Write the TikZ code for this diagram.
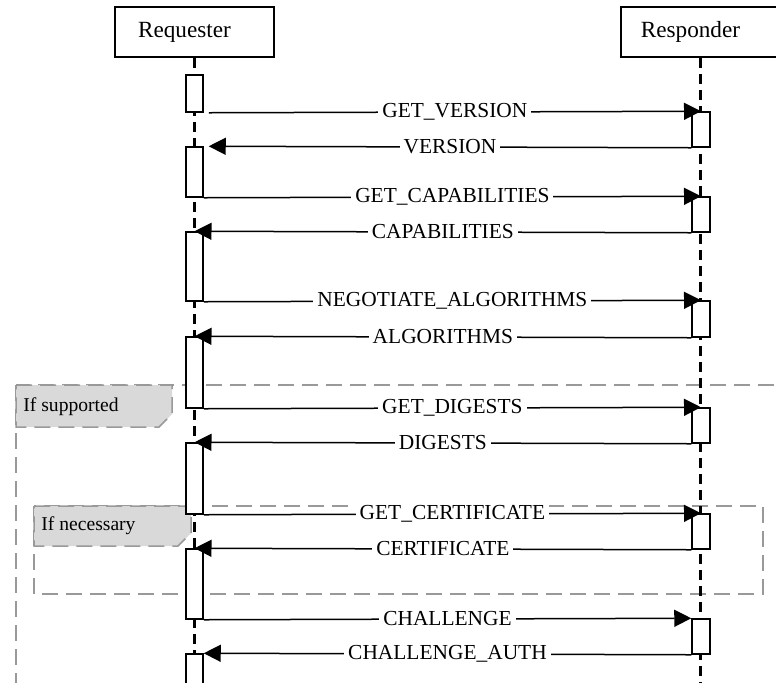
\documentclass[tikz,border=0pt]{standalone}
\usepackage{fontspec}
\setmainfont{Liberation Serif}
\usetikzlibrary{arrows.meta,fit}
\definecolor{gristrait}{rgb}{0.6,0.6,0.6}
\definecolor{grispale}{rgb}{0.85,0.85,0.85}
\newcommand{\msgfont}{\fontsize{10.7}{12}\selectfont}

\begin{document}
\begin{tikzpicture}[x=0.5pt, y=-0.5pt]
		% STYLES
		\tikzstyle{actor} = [draw, line width=1.3pt, minimum width=79.5pt, minimum height=25pt, inner sep=0pt, font=\fontsize{11.6}{13}\selectfont]
		\tikzstyle{lifeline} = [line width=1.5pt, dash pattern=on 5pt off 3pt]
		\tikzstyle{actbox} = [draw, fill=white, line width=0.75pt, inner sep=0pt]
		\tikzstyle{msg} = [line width=0.75pt, -{Triangle[length=8.5pt, width=8.5pt]}]
		\tikzstyle{lbl} = [fill=white, inner sep=2pt, font=\msgfont]

		\tikzstyle{zoneframe} = [draw=gristrait, line width=0.75pt, dash pattern=on 8pt off 4pt]
		\tikzstyle{tabbox} = [zoneframe, fill=grispale]
		\tikzstyle{tabtext} = [anchor=west, inner sep=0pt, font=\fontsize{9.8}{11}\selectfont]

		\useasboundingbox (0,0) rectangle (776,682);

		% ZONES
		\path[zoneframe] (16,385) rectangle (800,700);
		\path[tabbox]
			(16,385) -- (172,385) -- (172,414) -- (159,427) -- (16,427) -- cycle;
		\node[tabtext] (supp) at (23,407) {If supported};

		\path[zoneframe] (34,506) rectangle (763,594);
		\path[tabbox]
			(34,506) -- (191,506) -- (191,533) -- (178,546) -- (34,546) -- cycle;
		\node[tabtext] (neces) at (41,526) {If necessary};

		% ACTORS
		\node[actor] (req) at (194.5,32) {Requester\hspace*{10pt}};
		\node[actor] (resp) at (700.5,32) {Responder\hspace*{10pt}};

		% LIFELINES
		\coordinate (reqend) at (req.south |- 0,700);
		\coordinate (respend) at (resp.south |- 0,700);
		\draw[lifeline] (req.south) -- (reqend);
		\draw[lifeline] (resp.south) -- (respend);

		% ACTIVATIONS
		\foreach \n/\t/\b in {1/75/112, 2/147/197, 3/232/301, 4/337/408, 5/443/514, 6/549/619, 7/654/700} % requester
			\node[actbox, fit={(186,\t) (203,\b)}] (rq\n) {};
		\foreach \n/\t/\b in {1/112/147, 2/197/232, 3/301/337, 4/408/443, 5/514/549, 6/619/654} % responder
			\node[actbox, fit={(692,\t) (710,\b)}] (rs\n) {};

		% MESSAGES
		\draw[msg] ([xshift=2.5pt]rq1.south east) -- node[lbl] (m1) {GET\_VERSION} (rs1.north);
		\draw[msg] (rs1.south west) -- node[lbl] (m2) {VERSION} ([xshift=2.5pt]rq2.north east);
		\draw[msg] (rq2.south east) -- node[lbl] (m3) {GET\_CAPABILITIES} (rs2.north);
		\draw[msg] (rs2.south west) -- node[lbl] (m4) {CAPABILITIES} (rq3.north);
		\draw[msg] (rq3.south east) -- node[lbl] (m5) {NEGOTIATE\_ALGORITHMS} (rs3.north);
		\draw[msg] (rs3.south west) -- node[lbl] (m6) {ALGORITHMS} (rq4.north);
		\draw[msg] (rq4.south east) -- node[lbl] (m7) {GET\_DIGESTS} (rs4.north);
		\draw[msg] (rs4.south west) -- node[lbl] (m8) {DIGESTS} (rq5.north);
		\draw[msg] (rq5.south east) -- node[lbl] (m9) {GET\_CERTIFICATE} (rs5.north);
		\draw[msg] (rs5.south west) -- node[lbl] (m10) {CERTIFICATE} (rq6.north);
		\draw[msg] (rq6.south east) -- node[lbl] (m11) {CHALLENGE} (rs6.north west);
		\draw[msg] (rs6.south west) -- node[lbl] (m12) {CHALLENGE\_AUTH} (rq7.north east);

	\end{tikzpicture}
\end{document}
